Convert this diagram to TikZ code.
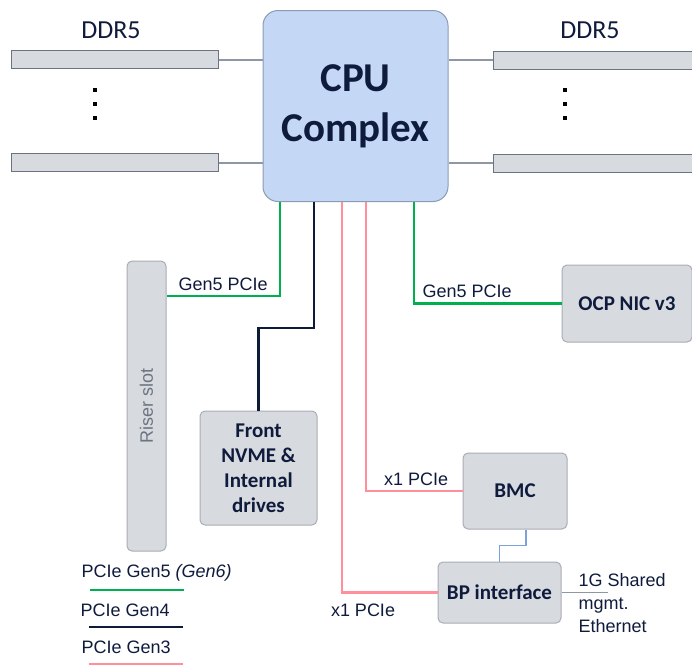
\documentclass[tikz,border=0pt]{standalone}
\usepackage{fontspec}
\usepackage{xcolor}
\usepackage{tikz}
\setmainfont{Liberation Sans}
\newfontfamily\calfont{Carlito}
\usetikzlibrary{calc}
\definecolor{navytext}{HTML}{0F1B3C}
\definecolor{cpufill}{HTML}{C4D7F4}
\definecolor{cpuline}{HTML}{8C9BB5}
\definecolor{boxfill}{HTML}{D7DADF}
\definecolor{boxline}{HTML}{A9ADB4}
\definecolor{ddrline}{HTML}{6B7383}
\definecolor{gfivecol}{HTML}{00B050}
\definecolor{gfourcol}{HTML}{0D1A38}
\definecolor{gthreecol}{HTML}{FF8F9A}
\definecolor{mgmtcol}{HTML}{7CA2DA}
\definecolor{memcol}{HTML}{8D97A6}
\definecolor{risertext}{HTML}{6B7480}
\tikzstyle{every node}=[font=\fontsize{18}{22}\selectfont, text=navytext]
\tikzstyle{unit}=[draw=boxline, fill=boxfill, rounded corners=5, line width=1, font=\calfont\bfseries\fontsize{21}{25}\selectfont, align=center]
\tikzstyle{dimm}=[draw=ddrline, fill=boxfill, line width=1, minimum width=207, minimum height=18, inner sep=0]
\tikzstyle{memlink}=[memcol, line width=2]
\tikzstyle{genfive}=[gfivecol, line width=2.8]
\tikzstyle{genfour}=[gfourcol, line width=2.8]
\tikzstyle{genthree}=[gthreecol, line width=2.8]

\begin{document}
\begin{tikzpicture}[x=1pt, y=-1pt]
            \useasboundingbox (0,0) rectangle (692,665);

            \node [draw=cpuline, fill=cpufill, rounded corners=15, line width=1, minimum width=185, minimum height=191, align=center, font=\calfont\bfseries\fontsize{41}{50}\selectfont] (cpu) at (355.5,106) {CPU\\Complex};

            \node [dimm] (ddrLa) at (114.5,59.5) {};
            \node [dimm] (ddrLb) at (114.5,162.5) {};
            \node [dimm] (ddrRa) at (596.5,60) {};
            \node [dimm] (ddrRb) at (596.5,163) {};
            \node [font=\calfont\fontsize{26}{30}\selectfont] (ddrLlbl) at (111,30) {DDR5};
            \node [font=\calfont\fontsize{26}{30}\selectfont] (ddrRlbl) at (590,30) {DDR5};

            \foreach \y in {90,104,118} {
                \fill (93,\y-2) rectangle ++(4,4);
                \fill (563,\y-2) rectangle ++(4,4);
            }

            \draw [memlink] (ddrLa.east) -- (ddrLa.east -| cpu.west);
            \draw [memlink] (ddrLb.east) -- (ddrLb.east -| cpu.west);
            \draw [memlink] (ddrRa.west) -- (ddrRa.west -| cpu.east);
            \draw [memlink] (ddrRb.west) -- (ddrRb.west -| cpu.east);

            \node [unit, minimum width=39, minimum height=290] (riser) at (146.5,406) {};
            \node [rotate=90, text=risertext] (riserlbl) at (riser) {Riser slot};
            \node [unit, minimum width=117, minimum height=114] (front) at (258.5,468) {Front\\NVME \&\\Internal\\drives};
            \node [unit, minimum width=130, minimum height=77] (ocp) at (627,303.5) {OCP NIC v3};
            \node [unit, minimum width=104, minimum height=76] (bmc) at (515,491) {BMC};
            \node [unit, minimum width=123, minimum height=61] (bp) at (499.5,592.5) {BP interface};

            \coordinate (g5l) at (280,296);
            \coordinate (g4) at (314,328);
            \coordinate (g3a) at (342,592);
            \coordinate (g3b) at (366,491);
            \coordinate (g5r) at (414,303);

            \draw [genfive] (cpu.south -| g5l) |- (riser.east |- g5l) node [pos=0.75, above=1] {Gen5 PCIe};
            \draw [genfour] (cpu.south -| g4) -- (g4) -| (front.north);
            \draw [genthree] (cpu.south -| g3a) |- (bp.west) node [pos=0.61, below=7] {x1 PCIe};
            \draw [genthree] (cpu.south -| g3b) |- (bmc.west) node [pos=0.76, above=1] {x1 PCIe};
            \draw [genfive] (cpu.south -| g5r) |- (ocp.west) node [pos=0.68, above=1] {Gen5 PCIe};
            \draw [mgmtcol, line width=1.2] ([xshift=11]bmc.south) -- ++(0,16) -| (bp.north);
            \draw [memcol, line width=0.8] (bp.east) -- ++(46,0) coordinate (ethend);
            \node [anchor=west, align=left, font=\fontsize{18}{23}\selectfont] (eth) at (575,603) {1G Shared\\mgmt.\\Ethernet};

            \node [anchor=west] (leg5) at (78,573) {PCIe Gen5 \textit{(Gen6)}};
            \node [anchor=west] (leg4) at (77,610) {PCIe Gen4};
            \node [anchor=west] (leg3) at (78,647) {PCIe Gen3};
            \draw [genfive] (90,590) -- (184,590);
            \draw [genfour] (89,627) -- (183,627);
            \draw [genthree] (89,664) -- (183,664);
        \end{tikzpicture}
\end{document}
